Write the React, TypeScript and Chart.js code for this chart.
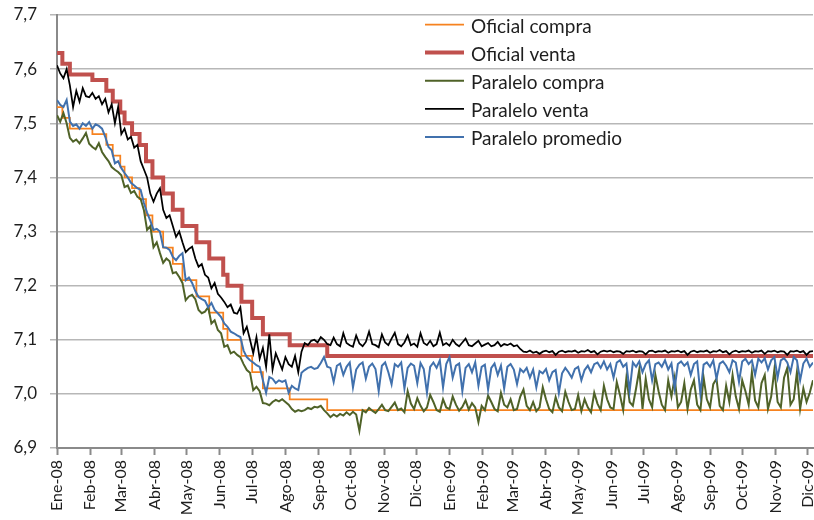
import { useEffect, useRef } from "react";
import { Chart, registerables } from "chart.js";

Chart.register(...registerables);

// Month labels on the horizontal axis and the day (counted from 1 Jan 2008) each month starts on
const MONTH_LABELS = [
  "Ene-08", "Feb-08", "Mar-08", "Abr-08", "May-08", "Jun-08",
  "Jul-08", "Ago-08", "Sep-08", "Oct-08", "Nov-08", "Dic-08",
  "Ene-09", "Feb-09", "Mar-09", "Abr-09", "May-09", "Jun-09",
  "Jul-09", "Ago-09", "Sep-09", "Oct-09", "Nov-09", "Dic-09",
];
const MONTH_START_DAYS = [
  0, 31, 60, 91, 121, 152, 182, 213, 244, 274, 305, 335,
  366, 397, 425, 456, 486, 517, 547, 578, 609, 639, 670, 700,
];
const LAST_DAY = 705;

// Official rate: days on which a new rate took effect, and the rates
const OFICIAL_STEP_DAYS = [
  0, 5, 12, 33, 46, 52, 59, 63, 70, 77, 83, 89, 99, 108, 117, 130, 142, 155,
  159, 172, 182, 192, 217, 252, 705,
];
const OFICIAL_VENTA = [
  7.63, 7.61, 7.59, 7.58, 7.56, 7.54, 7.52, 7.5, 7.48, 7.46, 7.43, 7.4, 7.37,
  7.34, 7.31, 7.28, 7.25, 7.22, 7.2, 7.17, 7.14, 7.11, 7.09, 7.07, 7.07,
];
const OFICIAL_COMPRA = [
  7.53, 7.51, 7.49, 7.48, 7.46, 7.44, 7.42, 7.4, 7.38, 7.36, 7.33, 7.3, 7.27,
  7.24, 7.21, 7.18, 7.15, 7.12, 7.1, 7.07, 7.04, 7.01, 6.99, 6.97, 6.97,
];

// Parallel market: one quote every PARALELO_EVERY_DAYS days from 1 Jan 2008
const PARALELO_EVERY_DAYS = 3;
const PARALELO_COMPRA = [
  7.515, 7.503, 7.519, 7.5, 7.473, 7.466, 7.47, 7.463, 7.472, 7.482,
  7.462, 7.456, 7.452, 7.463, 7.447, 7.438, 7.43, 7.419, 7.414, 7.41,
  7.404, 7.382, 7.385, 7.371, 7.375, 7.364, 7.36, 7.34, 7.303, 7.31,
  7.271, 7.28, 7.26, 7.242, 7.25, 7.245, 7.223, 7.225, 7.216, 7.205,
  7.173, 7.18, 7.183, 7.175, 7.155, 7.149, 7.152, 7.16, 7.13, 7.136,
  7.118, 7.112, 7.087, 7.09, 7.075, 7.078, 7.072, 7.068, 7.055, 7.044,
  7.039, 7.007, 7.013, 7.005, 6.983, 6.982, 6.979, 6.985, 6.989, 6.986,
  6.99, 6.985, 6.98, 6.972, 6.967, 6.97, 6.968, 6.97, 6.974, 6.972,
  6.976, 6.975, 6.978, 6.97, 6.964,
  6.957, 6.962, 6.958, 6.963, 6.96, 6.966, 6.961, 6.967, 6.962, 6.932,
  6.97, 6.966, 6.974, 6.969, 6.965, 6.972, 6.98, 6.97, 6.968, 6.976,
  6.984, 6.97, 6.973, 6.966, 7.005, 6.982, 6.972, 6.992, 6.978, 6.968,
  6.975, 6.998, 6.985, 6.97, 6.967, 6.99, 6.975, 6.972, 6.995, 6.98,
  6.969, 6.976, 6.988, 6.971, 6.983, 6.975, 6.948, 6.978, 6.97, 6.997,
  6.985, 6.972, 6.968, 7.002, 6.98, 6.975, 6.99, 6.97, 6.972, 6.995,
  7.008, 6.978, 6.97, 6.985, 6.968, 6.975, 7.012, 6.99, 6.972, 6.966,
  6.994, 6.975, 6.968, 7.004, 6.985, 6.97, 6.972, 6.998, 6.968, 6.99,
  6.975, 6.966, 7.002, 6.982, 6.97, 7.015, 6.99, 6.975, 6.972, 7.022,
  6.998, 6.97, 7.03, 6.985, 6.978, 7.01, 7.045, 6.972, 7.028, 6.99,
  6.975, 7.035, 7.005, 6.98, 6.97, 7.025, 6.995, 7.03, 6.975, 6.985,
  7.02, 6.972, 7.008, 7.025, 6.98, 6.97, 7.03, 6.99, 6.975, 7.018,
  7.028, 6.978, 6.97, 7.015, 6.985, 7.035, 6.995, 6.972, 7.025, 7.005,
  6.98, 7.04, 6.988, 6.975, 7.02, 7.035, 6.972, 6.995, 7.045, 6.985,
  6.975, 7.03, 7.048, 6.98, 6.99, 7.04, 6.972, 7.01, 6.985, 7.002, 7.025,
];
const PARALELO_VENTA = [
  7.607, 7.592, 7.583, 7.6, 7.57, 7.53, 7.56, 7.54, 7.565, 7.55,
  7.548, 7.556, 7.545, 7.55, 7.535, 7.545, 7.52, 7.535, 7.5, 7.53,
  7.48, 7.49, 7.47, 7.475, 7.455, 7.46, 7.43, 7.415, 7.4, 7.37,
  7.355, 7.37, 7.38, 7.34, 7.325, 7.33, 7.31, 7.29, 7.3, 7.28,
  7.262, 7.268, 7.272, 7.25, 7.235, 7.24, 7.22, 7.215, 7.195, 7.205,
  7.185, 7.178, 7.17, 7.16, 7.165, 7.15, 7.148, 7.16, 7.112, 7.124,
  7.1, 7.075, 7.105, 7.065, 7.085, 7.05, 7.11, 7.045, 7.075, 7.06,
  7.045, 7.068, 7.055, 7.05, 7.07, 7.04, 7.078, 7.094, 7.09, 7.098,
  7.1, 7.095, 7.105, 7.1, 7.092,
  7.09, 7.104, 7.092, 7.088, 7.112, 7.094, 7.09, 7.087, 7.108, 7.093,
  7.088, 7.096, 7.115, 7.092, 7.09, 7.086, 7.11, 7.095, 7.09, 7.102,
  7.113, 7.092, 7.088, 7.095, 7.108, 7.09, 7.093, 7.087, 7.112, 7.094,
  7.09, 7.098, 7.088, 7.092, 7.113, 7.09, 7.094, 7.089, 7.1, 7.092,
  7.088, 7.095, 7.102, 7.09, 7.088, 7.093, 7.098, 7.088, 7.091, 7.094,
  7.088, 7.09, 7.096, 7.088, 7.092, 7.09, 7.093, 7.088, 7.09, 7.083,
  7.078, 7.077, 7.08, 7.076, 7.078,
  7.074, 7.078, 7.08, 7.077, 7.079, 7.072, 7.078, 7.08, 7.077, 7.079,
  7.078, 7.08, 7.076, 7.079, 7.078, 7.081, 7.077, 7.079, 7.073, 7.078,
  7.08, 7.078, 7.08, 7.077, 7.079, 7.078, 7.074, 7.079, 7.078, 7.08,
  7.077, 7.079, 7.078, 7.073, 7.079, 7.08, 7.077, 7.079, 7.078, 7.08,
  7.076, 7.079, 7.078, 7.08, 7.077, 7.079, 7.072, 7.078, 7.08, 7.077,
  7.079, 7.078, 7.08, 7.076, 7.079, 7.078, 7.081, 7.077, 7.079, 7.073,
  7.078, 7.08, 7.077, 7.079, 7.078, 7.08, 7.076, 7.079, 7.078, 7.08,
  7.074, 7.079, 7.078, 7.08, 7.077, 7.079, 7.078, 7.072, 7.079, 7.078,
  7.08, 7.077, 7.079, 7.072, 7.078, 7.079,
];
const PARALELO_PROMEDIO = [
  7.543, 7.534, 7.53, 7.543, 7.503, 7.495, 7.498, 7.49, 7.5, 7.495,
  7.502, 7.49, 7.498, 7.495, 7.49, 7.475, 7.456, 7.45, 7.426, 7.43,
  7.417, 7.408, 7.4, 7.39, 7.385, 7.38, 7.377, 7.353, 7.335, 7.32,
  7.303, 7.305, 7.3, 7.271, 7.27, 7.266, 7.253, 7.247, 7.255, 7.26,
  7.21, 7.215, 7.205, 7.19, 7.179, 7.175, 7.172, 7.16, 7.168, 7.155,
  7.149, 7.142, 7.13, 7.124, 7.115, 7.112, 7.108, 7.105, 7.08, 7.068,
  7.062, 7.058, 7.053, 7.05, 7.025, 7.002, 7.031, 7.028, 7.02, 7.025,
  7.022, 7.025, 7.002, 7.015, 7.01, 7.007, 7.039, 7.044, 7.048, 7.05,
  7.046, 7.048, 7.057, 7.068, 7.05,
  7.048, 7.022, 7.052, 7.056, 7.035, 7.05, 7.058, 7.012, 7.045, 7.054,
  7.058, 7.028, 7.05, 7.056, 7.046, 7.005, 7.052, 7.058, 7.04, 7.018,
  7.055, 7.05, 7.058, 7.01, 7.048, 7.056, 7.052, 7.02, 7.057, 7.046,
  7.002, 7.05, 7.058, 7.048, 7.062, 7.012, 7.055, 7.068, 7.03, 7.052,
  7.056, 7.005, 7.048, 7.055, 7.04, 7.058, 7.015, 7.05, 7.054, 7.008,
  7.048, 7.056, 7.035, 7.052, 7.01, 7.05, 7.055, 7.045, 7.018, 7.046,
  7.04, 7.048, 7.03, 7.045, 7.012, 7.042, 7.038, 7.046, 7.025, 7.04,
  7.044, 7.002, 7.038, 7.048, 7.04, 7.03, 7.046, 7.05, 7.025, 7.044,
  7.052, 7.04, 7.055, 7.058, 7.048, 7.06, 7.045, 7.055, 7.03, 7.058,
  7.062, 7.05, 7.056, 7.005, 7.058, 7.05, 7.06, 7.04, 7.055, 7.062,
  7.025, 7.055, 7.058, 7.05, 7.062, 7.045, 7.056, 7.01, 7.055, 7.06,
  7.052, 7.058, 7.035, 7.055, 7.06, 7.0, 7.054, 7.058, 7.05, 7.062,
  7.028, 7.056, 7.06, 7.052, 7.04, 7.062, 7.058, 7.022, 7.06, 7.065,
  7.055, 7.062, 7.035, 7.065, 7.058, 7.066, 7.045, 7.062, 7.068, 7.03,
  7.062, 7.066, 7.058, 7.04, 7.068, 7.062, 7.025, 7.056, 7.065, 7.05, 7.058,
];

const Y_MIN = 6.9;
const Y_MAX = 7.7;
const Y_STEP = 0.1;

const FONT = "Lato, 'Open Sans', sans-serif";
const TEXT_COLOR = "#1e1e1e";
const AXIS_COLOR = "#8a8a8a";
const GRID_COLOR = "#b7b7b7";

const SERIES = [
  { label: "Oficial compra", color: "#f6821f", width: 1.75 },
  { label: "Oficial venta", color: "#c0504d", width: 4 },
  { label: "Paralelo compra", color: "#4f6228", width: 2 },
  { label: "Paralelo venta", color: "#000000", width: 1.75 },
  { label: "Paralelo promedio", color: "#4171ad", width: 2 },
];

const stepPoints = (values: number[]) =>
  OFICIAL_STEP_DAYS.map((d, i) => ({ x: d, y: values[i] }));
const quotePoints = (values: number[]) =>
  values.map((v, i) => ({ x: i * PARALELO_EVERY_DAYS, y: v }));

// Legend drawn inside the plot, over the grid, without a frame
const insideLegend = {
  id: "insideLegend",
  afterDraw(chart: Chart) {
    const { ctx, chartArea } = chart;
    const x0 = chartArea.left + 368;
    const y0 = chartArea.top + 9.5;
    ctx.save();
    ctx.font = `19px ${FONT}`;
    ctx.textBaseline = "alphabetic";
    SERIES.forEach((s, k) => {
      const y = y0 + k * 28.1;
      ctx.strokeStyle = s.color;
      ctx.lineWidth = s.width;
      ctx.beginPath();
      ctx.moveTo(x0, y);
      ctx.lineTo(x0 + 39, y);
      ctx.stroke();
      ctx.fillStyle = TEXT_COLOR;
      ctx.fillText(s.label, x0 + 46, y + 8);
    });
    ctx.restore();
  },
};

export default function App() {
  const canvasRef = useRef<HTMLCanvasElement | null>(null);

  useEffect(() => {
    document.body.style.margin = "0";
    const canvas = canvasRef.current;
    if (!canvas) return;

    const seriesData = [
      stepPoints(OFICIAL_COMPRA),
      stepPoints(OFICIAL_VENTA),
      quotePoints(PARALELO_COMPRA),
      quotePoints(PARALELO_VENTA),
      quotePoints(PARALELO_PROMEDIO),
    ];

    const chart = new Chart(canvas, {
      type: "line",
      data: {
        datasets: SERIES.map((s, k) => ({
          label: s.label,
          data: seriesData[k],
          borderColor: s.color,
          backgroundColor: s.color,
          borderWidth: s.width,
          pointRadius: 0,
          tension: 0,
          stepped: k < 2 ? "before" : false,
          order: 5 - k,
          borderJoinStyle: "miter",
        })),
      },
      options: {
        responsive: false,
        animation: false,
        devicePixelRatio: 1,
        layout: { padding: { top: 15, right: 1, left: 0, bottom: 0 } },
        plugins: {
          legend: { display: false },
          tooltip: { enabled: false },
        },
        scales: {
          x: {
            type: "linear",
            min: 0,
            max: LAST_DAY,
            afterBuildTicks: (scale: any) => {
              scale.ticks = MONTH_START_DAYS.map((v) => ({ value: v }));
            },
            afterFit: (scale: any) => {
              scale.height = 72;
              scale.paddingLeft = 0;
              scale.paddingRight = 0;
            },
            ticks: {
              autoSkip: false,
              minRotation: 90,
              maxRotation: 90,
              padding: 5,
              color: TEXT_COLOR,
              font: { family: FONT, size: 16 },
              callback: (_v: any, i: number) => MONTH_LABELS[i],
            },
            grid: {
              drawOnChartArea: false,
              drawTicks: true,
              tickLength: 7,
              tickColor: AXIS_COLOR,
              tickWidth: 2,
            },
            border: { color: AXIS_COLOR, width: 2 },
          },
          y: {
            type: "linear",
            min: Y_MIN,
            max: Y_MAX,
            afterFit: (scale: any) => {
              scale.width = 57;
              scale.paddingTop = 0;
              scale.paddingBottom = 0;
            },
            ticks: {
              stepSize: Y_STEP,
              padding: 13,
              color: TEXT_COLOR,
              font: { family: FONT, size: 17 },
              callback: (v: any) => Number(v).toFixed(1).replace(".", ","),
            },
            grid: {
              color: GRID_COLOR,
              lineWidth: 1.5,
              tickLength: 7,
              tickColor: GRID_COLOR,
            },
            border: { color: AXIS_COLOR, width: 2 },
          },
        },
      },
      plugins: [insideLegend],
    });

    return () => chart.destroy();
  }, []);

  return (
    <div style={{ width: 814, height: 520, background: "#fff" }}>
      <canvas ref={canvasRef} width={814} height={520} style={{ display: "block" }} />
    </div>
  );
}
